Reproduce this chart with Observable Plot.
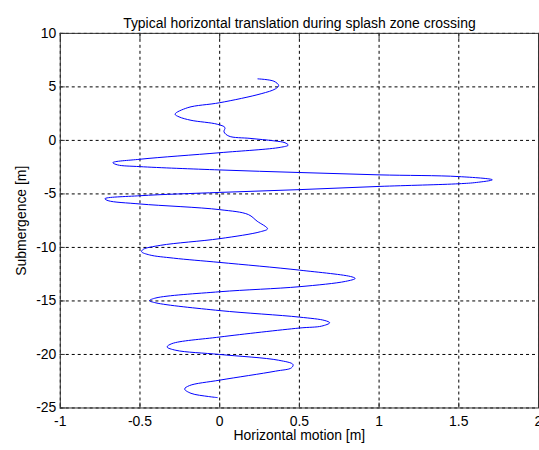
<!DOCTYPE html>
<html>
<head>
<meta charset="utf-8">
<script src="https://cdn.jsdelivr.net/npm/d3@7"></script>
<script src="https://cdn.jsdelivr.net/npm/@observablehq/plot@0.6"></script>
<style>
  html, body { margin: 0; padding: 0; background: #fff; overflow: hidden; }
  #chart svg { display: block; }
</style>
</head>
<body>
<div id="chart"></div>
<script>
const titleText = "Typical horizontal translation during splash zone crossing";
const xLabel = "Horizontal motion [m]";
const yLabel = "Submergence [m]";
const xTicks = [-1, -0.5, 0, 0.5, 1, 1.5, 2];
const yTicks = [10, 5, 0, -5, -10, -15, -20, -25];

// horizontal motion [m], read along the curve from the top
const motion = [
  0.24, 0.34, 0.37, 0.35, 0.26, 0.00, -0.20, -0.28, -0.255, -0.18,
  -0.015, 0.033, 0.027, 0.058, 0.19, 0.34, 0.41, 0.43, 0.38, 0.00,
  -0.50, -0.67, -0.64, -0.50, 0.00, 0.50, 1.00, 1.50, 1.71, 1.61,
  1.50, 1.00, 0.50, 0.00, -0.50, -0.72, -0.70, -0.50, 0.00, 0.18,
  0.235, 0.30, 0.256, 0.00, -0.37, -0.48, -0.49, -0.44, -0.29, 0.00,
  0.50, 0.83, 0.85, 0.79, 0.50, 0.00, -0.40, -0.44, -0.40, 0.00,
  0.50, 0.66, 0.69, 0.64, 0.50, 0.00, -0.30, -0.33, -0.275, 0.00,
  0.37, 0.46, 0.45, 0.35, 0.00, -0.19, -0.22, -0.18, -0.07, -0.015
];
// submergence [m], matching points
const submergence = [
  5.75, 5.53, 5.13, 4.82, 4.36, 3.52, 3.06, 2.45, 2.2, 1.88,
  1.51, 1.2, 0.8, 0.4, 0.19, -0.04, -0.22, -0.44, -0.65, -1.15,
  -1.76, -2.08, -2.29, -2.45, -2.76, -3.0, -3.22, -3.38, -3.68, -3.93,
  -4.05, -4.3, -4.6, -4.86, -5.17, -5.45, -5.63, -5.94, -6.47, -6.93,
  -7.55, -8.26, -8.53, -9.18, -9.8, -10.18, -10.4, -10.7, -11.0, -11.4,
  -12.12, -12.75, -12.9, -13.17, -13.67, -14.14, -14.72, -14.97, -15.18, -15.9,
  -16.51, -16.83, -17.04, -17.35, -17.53, -18.37, -18.99, -19.3, -19.61, -20.0,
  -20.54, -20.94, -21.25, -21.56, -22.4, -22.91, -23.23, -23.63, -23.93, -24.03
];

const data = motion.map((m, i) => ({x: m, y: submergence[i]}));
const fmt = d => String(d);
const font = "Liberation Sans, Arial, sans-serif";

const chart = Plot.plot({
  width: 541,
  height: 450,
  marginLeft: 60,
  marginRight: 1,
  marginTop: 33,
  marginBottom: 41,
  style: {fontFamily: font, fontSize: "14px", background: "#fff", color: "#000"},
  x: {domain: [-1, 2], ticks: xTicks},
  y: {domain: [-25, 10], ticks: yTicks},
  marks: [
    Plot.gridX(xTicks, {stroke: "#000", strokeOpacity: 1, strokeDasharray: "3,3"}),
    Plot.gridY(yTicks, {stroke: "#000", strokeOpacity: 1, strokeDasharray: "3,3"}),
    Plot.line(data, {x: "x", y: "y", curve: "catmull-rom", stroke: "#0000ff", strokeWidth: 1}),
    Plot.frame({stroke: "#333"}),
    Plot.axisX(xTicks, {anchor: "bottom", tickSize: -5, stroke: "#333", text: null, label: null}),
    Plot.axisX(xTicks, {anchor: "top", tickSize: -5, stroke: "#333", text: null, label: null}),
    Plot.axisY(yTicks, {anchor: "left", tickSize: -5, stroke: "#333", text: null, label: null}),
    Plot.axisX(xTicks, {anchor: "bottom", tickSize: 0, tickPadding: 8, tickFormat: fmt, label: null, fill: "#000"}),
    Plot.axisY(yTicks, {anchor: "left", tickSize: 0, tickPadding: 4, tickFormat: fmt, label: null, fill: "#000"}),
    Plot.text([titleText], {frameAnchor: "top", dy: -15, fontSize: 14, fill: "#000"}),
    Plot.text([xLabel], {frameAnchor: "bottom", dy: 32.5, fontSize: 14, fill: "#000"}),
    Plot.text([yLabel], {frameAnchor: "left", dx: -39, rotate: -90, textAnchor: "middle", fontSize: 14, fill: "#000"})
  ]
});
document.getElementById("chart").appendChild(chart);
</script>
</body>
</html>
